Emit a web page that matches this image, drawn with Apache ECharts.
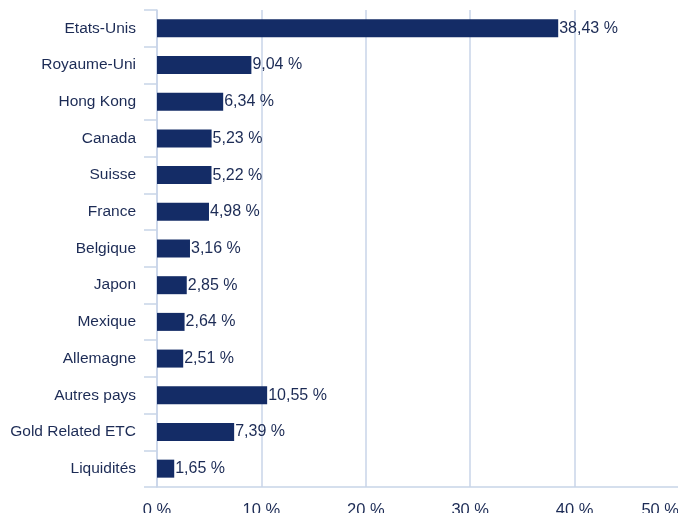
<!DOCTYPE html>
<html lang="fr">
<head>
    <meta charset="UTF-8">
    <title>Répartition par pays</title>
    <script src="https://cdn.jsdelivr.net/npm/echarts@6/dist/echarts.min.js"></script>
</head>
<body style="margin:0;width:678px;height:513px;background:#fff">
<div id="main" style="width:678px;height:513px"></div>
<script>
    // pays, de haut en bas
    var pays = ['Etats-Unis', 'Royaume-Uni', 'Hong Kong', 'Canada', 'Suisse', 'France', 'Belgique',
        'Japon', 'Mexique', 'Allemagne', 'Autres pays', 'Gold Related ETC', 'Liquidités'];
    var poids = [38.43, 9.04, 6.34, 5.23, 5.22, 4.98, 3.16, 2.85, 2.64, 2.51, 10.55, 7.39, 1.65];
    var ticksX = [0, 10, 20, 30, 40, 50];

    var lineColor = '#c8d5e8';
    var textColor = '#1c2b55';

    var myChart = echarts.init(document.getElementById('main'));
    myChart.setOption({
        animation: false,
        textStyle: { fontFamily: 'Liberation Sans, Arial, sans-serif' },
        // l'axe des 50 % tombe juste hors du cadre
        grid: { left: 157, right: -1, top: 10, bottom: 26, containLabel: false, outerBoundsMode: 'none' },
        xAxis: {
            type: 'value',
            min: ticksX[0],
            max: ticksX[ticksX.length - 1],
            interval: 10,
            axisLine: { show: true, lineStyle: { color: lineColor, width: 1.5 } },
            axisTick: { show: false },
            splitLine: { show: true, lineStyle: { color: lineColor, width: 1.5 } },
            axisLabel: {
                color: textColor, fontSize: 16.5, margin: 15,
                alignMaxLabel: 'right',
                formatter: function (v) { return v + ' %'; }
            }
        },
        yAxis: {
            type: 'category',
            inverse: true,
            data: pays,
            axisLine: { show: true, lineStyle: { color: lineColor, width: 1.5 } },
            axisTick: { show: true, length: 13, lineStyle: { color: lineColor, width: 1.5 } },
            axisLabel: { color: textColor, fontSize: 15.5, margin: 21 }
        },
        series: [{
            type: 'bar',
            data: poids,
            barWidth: 18,
            itemStyle: { color: '#142c66' },
            label: {
                show: true,
                position: 'right',
                distance: 1,
                color: textColor,
                fontSize: 16,
                formatter: function (p) { return p.value.toFixed(2).replace('.', ',') + ' %'; }
            }
        }]
    });
</script>
</body>
</html>
